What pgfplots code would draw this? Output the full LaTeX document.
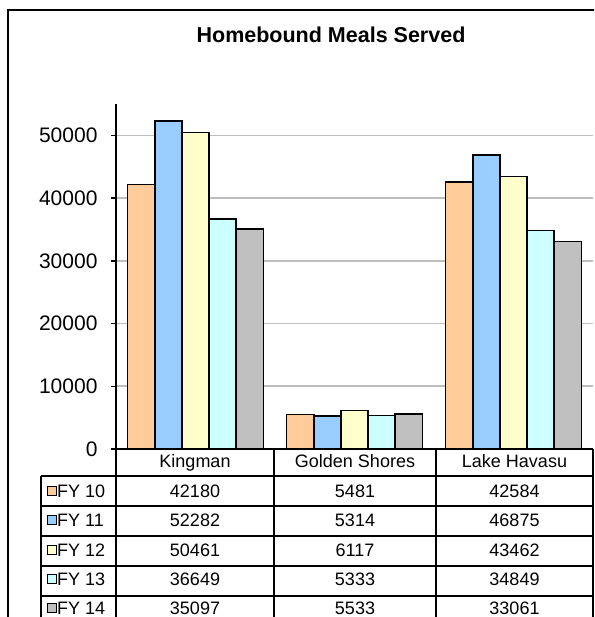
\documentclass[border=0pt]{standalone}
\usepackage{fontspec}
\setmainfont{Liberation Sans}
\usepackage{pgfplots}
\usepackage{pgfplotstable}
\pgfplotsset{compat=1.18}
\definecolor{c1}{HTML}{FFCC99}
\definecolor{c2}{HTML}{99CCFF}
\definecolor{c3}{HTML}{FFFFCC}
\definecolor{c4}{HTML}{CCFFFF}
\definecolor{c5}{HTML}{C0C0C0}
\definecolor{gridc}{HTML}{BEBEBE}
\newcommand\tabfont{\fontsize{18}{21}\selectfont}
\pgfplotstableread{
cat FY10 FY11 FY12 FY13 FY14
0 42180 52282 50461 36649 35097
1 5481 5314 6117 5333 5533
2 42584 46875 43462 34849 33061
}\data
\begin{document}
\begin{tikzpicture}[x=1pt,y=1pt]
\clip (0,0) rectangle (594,-617);
\path[use as bounding box] (0,0) rectangle (594,-617);
\draw[line width=1.3pt] (8,-10) rectangle (620,-640);
\node[font=\bfseries\fontsize{21.5}{25}\selectfont] at (331,-35) {Homebound Meals Served};
\begin{axis}[at={(116pt,-449pt)}, anchor=south west, scale only axis,
  width=477pt, height=345pt,
  xmin=-0.5, xmax=2.5, ymin=0, ymax=55000,
  ytick={0,10000,20000,30000,40000,50000}, xtick=\empty,
  axis x line=none, axis y line*=left,
  y axis line style={-, line width=1.6pt, black},
  ymajorgrids, grid style={gridc, line width=1.6pt},
  ytick style={line width=1.5pt, black},
  tick align=outside, major tick length=5pt,
  yticklabel style={font=\fontsize{21}{24}\selectfont, xshift=-10pt},
  /pgf/number format/assume math mode=true,
  /pgf/number format/set thousands separator={},
  scaled y ticks=false,
  ybar=0pt, bar width=27.2pt,
  every axis plot post/.append style={draw=black, line width=1.7pt}]
\addplot[fill=c1] table[x=cat,y=FY10]{\data};
\addplot[fill=c2] table[x=cat,y=FY11]{\data};
\addplot[fill=c3] table[x=cat,y=FY12]{\data};
\addplot[fill=c4] table[x=cat,y=FY13]{\data};
\addplot[fill=c5] table[x=cat,y=FY14]{\data};
\end{axis}
\begin{scope}[line width=1.3pt]
\draw (116,-449) -- (593,-449);
\foreach \y in {476,506,536,566,596} \draw (41,-\y) -- (593,-\y);
\draw (41,-476) -- (41,-620);
\foreach \x in {116,274,436,593} \draw (\x,-449) -- (\x,-620);
\end{scope}
\foreach \lab/\cx in {Kingman/195,Golden Shores/355,Lake Havasu/514.5}
  \node[font=\tabfont, text height=13pt, text depth=3.8pt, inner sep=0pt] at (\cx,-463) {\lab};
\foreach \c/\lab [count=\i from 0] in {c1/FY 10,c2/FY 11,c3/FY 12,c4/FY 13,c5/FY 14}{
  \draw[fill=\c, line width=0.9pt] (47,{-486.5-29.3*\i}) rectangle (56,{-495.5-29.3*\i});
  \node[font=\tabfont, anchor=west, text height=12.9pt, text depth=0pt, inner sep=0pt] at (57,{-491-29.3*\i}) {\lab};
}
\foreach \r/\cx in {0/195,1/355,2/514.5}{
  \foreach \c [count=\i from 0] in {FY10,FY11,FY12,FY13,FY14}{
    \pgfplotstablegetelem{\r}{\c}\of\data
    \node[font=\tabfont, text height=12.9pt, text depth=0pt, inner sep=0pt] at (\cx,{-491-29.3*\i}) {\pgfplotsretval};
  }
}
\end{tikzpicture}
\end{document}
